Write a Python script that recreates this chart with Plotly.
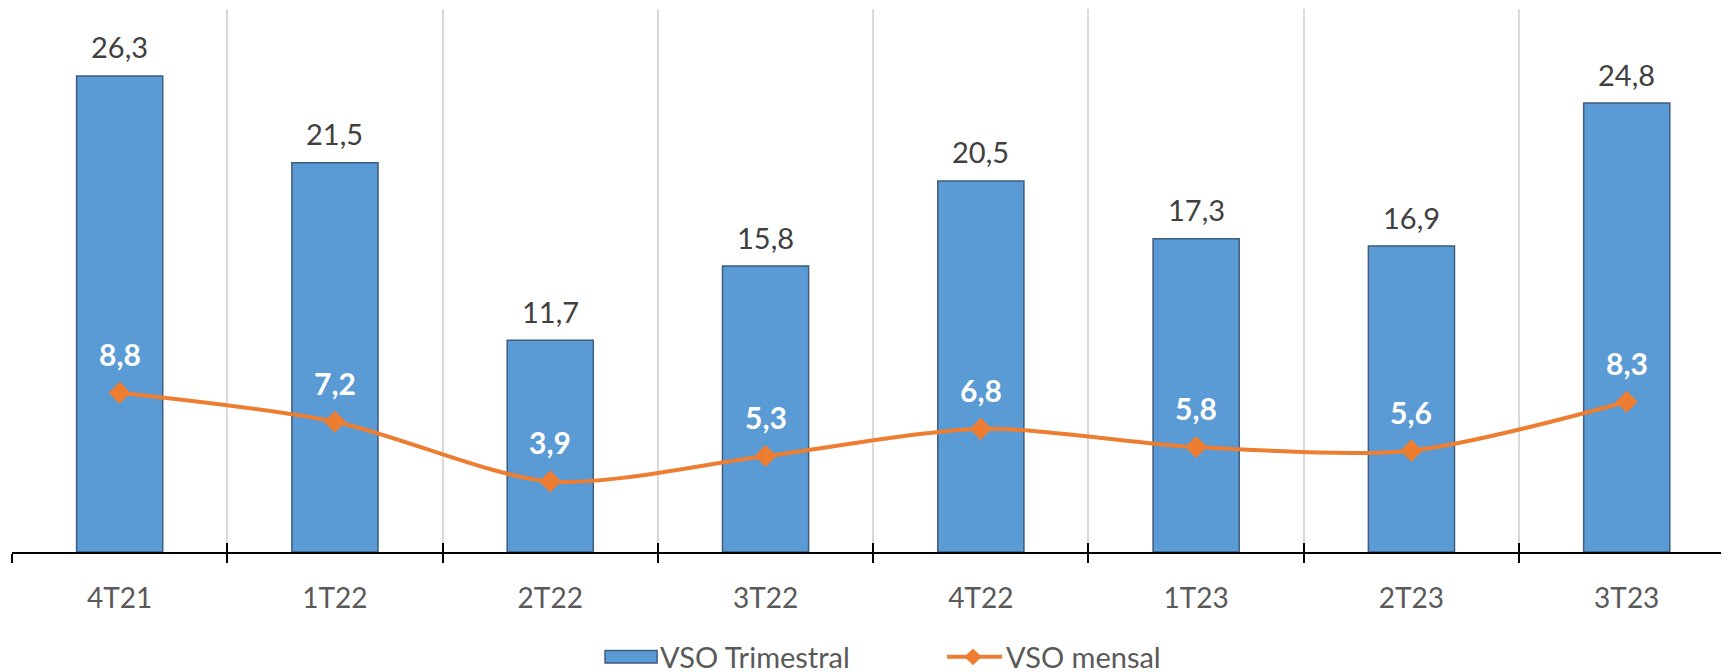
import plotly.graph_objects as go

categories = ["4T21", "1T22", "2T22", "3T22", "4T22", "1T23", "2T23", "3T23"]
vso_trimestral = [26.3, 21.5, 11.7, 15.8, 20.5, 17.3, 16.9, 24.8]
vso_mensal = [8.8, 7.2, 3.9, 5.3, 6.8, 5.8, 5.6, 8.3]
series_names = ["VSO Trimestral", "VSO mensal"]

FONT = "Lato, 'Open Sans', sans-serif"
BAR_COLOR = "#5B9BD5"
BAR_EDGE = "#3E5C7E"
LINE_COLOR = "#ED7D31"


def br(v):
    return f"{v:.1f}".replace(".", ",")


fig = go.Figure()
fig.add_trace(go.Bar(
    x=categories, y=vso_trimestral, name=series_names[0],
    marker=dict(color=BAR_COLOR, line=dict(color=BAR_EDGE, width=1.5)),
    width=0.4, showlegend=False,
))
fig.add_trace(go.Scatter(
    x=categories, y=vso_mensal, name=series_names[1], mode="lines+markers",
    line=dict(color=LINE_COLOR, width=4, shape="spline", smoothing=0.8),
    marker=dict(symbol="diamond", size=17, color=LINE_COLOR),
    showlegend=False,
))

for c, v in zip(categories, vso_trimestral):
    fig.add_annotation(x=c, y=v, text=br(v), showarrow=False, yanchor="middle",
                       yshift=29, font=dict(family=FONT, size=29, color="#404040"))
for c, v in zip(categories, vso_mensal):
    fig.add_annotation(x=c, y=v, text="<b>" + br(v) + "</b>", showarrow=False,
                       yanchor="middle", yshift=39,
                       font=dict(family=FONT, size=30, color="#FFFFFF"))

# invisible trace to draw inner half of tick marks
fig.add_trace(go.Scatter(x=categories, y=[None] * len(categories), xaxis="x2",
                         showlegend=False, hoverinfo="skip"))

# ---- custom legend (paper coordinates) ----
LEG_Y = -0.193
fig.add_shape(type="rect", xref="paper", yref="paper",
              x0=0.3454, x1=0.3757, y0=LEG_Y - 0.0115, y1=LEG_Y + 0.0115,
              fillcolor=BAR_COLOR, line=dict(color=BAR_EDGE, width=1.5))
fig.add_annotation(xref="paper", yref="paper", x=0.3760, y=LEG_Y,
                   xanchor="left", yanchor="middle", showarrow=False,
                   text=series_names[0],
                   font=dict(family=FONT, size=29, color="#595959"))
fig.add_shape(type="line", xref="paper", yref="paper",
              x0=0.5446, x1=0.5766, y0=LEG_Y, y1=LEG_Y,
              line=dict(color=LINE_COLOR, width=4))
dcx, dx, dy = 0.5597, 0.0050, 0.0155
fig.add_shape(type="path", xref="paper", yref="paper",
              path=f"M {dcx - dx} {LEG_Y} L {dcx} {LEG_Y + dy} L {dcx + dx} {LEG_Y} "
                   f"L {dcx} {LEG_Y - dy} Z",
              fillcolor=LINE_COLOR, line=dict(color=LINE_COLOR, width=0))
fig.add_annotation(xref="paper", yref="paper", x=0.5775, y=LEG_Y,
                   xanchor="left", yanchor="middle", showarrow=False,
                   text=series_names[1],
                   font=dict(family=FONT, size=29, color="#595959"))

fig.update_layout(
    width=1721, height=672,
    margin=dict(l=4, r=0, t=1, b=128, autoexpand=False),
    paper_bgcolor="white", plot_bgcolor="white",
    font=dict(family=FONT, color="#595959"),
    bargap=0.6,
    showlegend=False,
    xaxis=dict(
        type="category", range=[-0.5, 7.475], tickson="boundaries",
        showgrid=True, gridcolor="#D9D9D9", gridwidth=1.5,
        showline=True, linecolor="#000000", linewidth=2,
        ticks="outside", ticklen=9, tickwidth=2, tickcolor="#000000",
        tickfont=dict(family=FONT, size=28, color="#595959"),
        ticklabelstandoff=20, automargin=False,
    ),
    xaxis2=dict(
        type="category", overlaying="x", matches="x", tickson="boundaries",
        side="bottom", showgrid=False, showline=False, showticklabels=False,
        ticks="inside", ticklen=9, tickwidth=2, tickcolor="#000000",
        automargin=False,
    ),
    yaxis=dict(range=[0, 30], visible=False, showgrid=False, zeroline=False,
               automargin=False),
)

fig.write_html("out.html")
